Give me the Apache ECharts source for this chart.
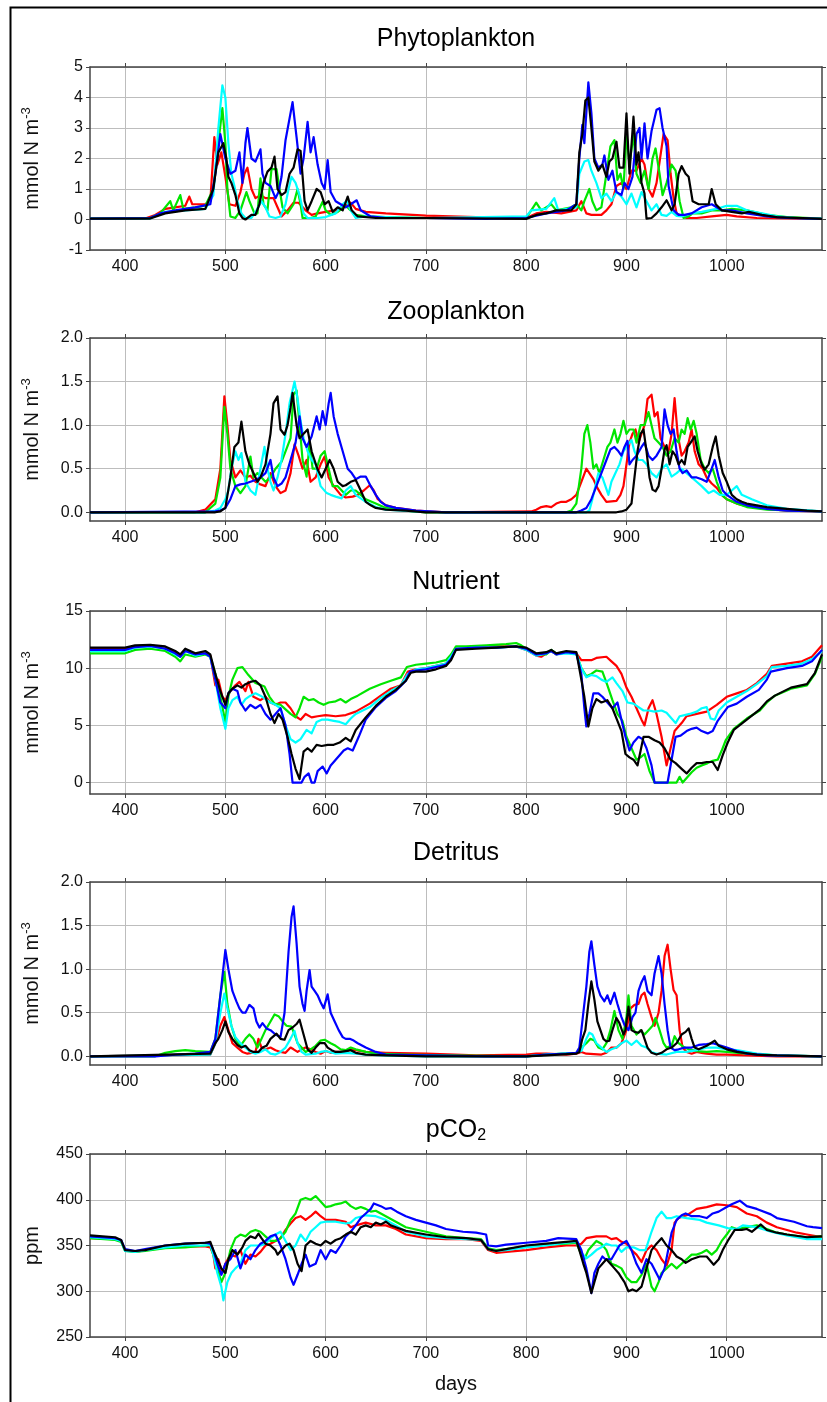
<!DOCTYPE html>
<html><head><meta charset="utf-8">
<script src="https://cdn.jsdelivr.net/npm/echarts@6/dist/echarts.min.js"></script>
<style>html,body{margin:0;padding:0;background:#fff}#c{width:827px;height:1402px}</style>
</head><body><div id="c"></div>
<script>
// ---------- tick labels / categories ----------
const xTicks = [400,500,600,700,800,900,1000];
const xMin = 365, xMax = 1095;
const yTicksPhyto = [-1,0,1,2,3,4,5];
const yTicksZoo = [0,0.5,1,1.5,2];
const yTicksNut = [0,5,10,15];
const yTicksDet = [0,0.5,1,1.5,2];
const yTicksPco2 = [250,300,350,400,450];
const seriesNames = ['red','green','cyan','blue','black'];

// ---------- Phytoplankton [day, mmol N m-3] ----------
const phytoRed = [[365,0.02],[400,0.02],[420,0.03],[430,0.15],[440,0.35],[450,0.4],[460,0.45],[464,0.75],[467,0.5],[480,0.5],[485,0.6],[489,2.7],[492,1.8],[496,2.2],[500,1.4],[504,0.5],[510,0.45],[515,0.9],[519,1.5],[522,1.7],[526,1.0],[530,0.7],[535,0.8],[540,0.7],[548,0.7],[552,0.4],[556,0.1],[562,0.3],[568,0.55],[573,0.55],[580,0.3],[586,0.15],[592,0.2],[600,0.25],[610,0.3],[620,0.45],[625,0.55],[630,0.35],[640,0.25],[660,0.2],[700,0.13],[750,0.08],[780,0.03],[800,0.05],[810,0.2],[820,0.25],[835,0.2],[850,0.3],[855,0.6],[860,0.2],[865,0.15],[875,0.15],[880,0.3],[885,0.5],[890,1.1],[895,1.2],[900,1.0],[905,1.6],[910,1.6],[915,2.0],[918,1.8],[922,1.0],[926,0.75],[930,1.2],[937,2.8],[941,2.6],[944,1.5],[947,0.7],[950,0.2],[960,0.05],[970,0.05],[985,0.1],[1000,0.15],[1010,0.1],[1030,0.05],[1095,0.02]];
const phytoBlue = [[365,0.03],[425,0.05],[435,0.2],[450,0.3],[470,0.4],[485,0.5],[490,1.5],[495,2.8],[500,2.0],[505,1.5],[510,1.6],[514,2.2],[517,1.2],[520,2.5],[522,3.0],[526,2.0],[530,1.9],[535,2.3],[537,1.5],[540,1.2],[545,1.1],[550,0.7],[553,0.9],[556,1.4],[560,2.6],[567,3.85],[571,2.7],[575,1.5],[578,2.0],[582,3.2],[585,2.2],[588,2.7],[592,1.8],[596,1.2],[599,1.0],[602,1.95],[605,0.9],[610,0.6],[615,0.5],[620,0.4],[625,0.5],[631,0.63],[635,0.3],[645,0.1],[660,0.05],[700,0.05],[760,0.02],[800,0.05],[820,0.2],[840,0.3],[850,0.5],[853,2.0],[856,3.1],[858,2.5],[862,4.5],[865,3.5],[868,2.0],[872,1.7],[876,1.8],[878,2.1],[882,1.3],[886,1.6],[890,0.9],[895,0.8],[898,1.2],[902,1.0],[906,1.4],[910,2.8],[913,3.0],[915,2.0],[918,3.15],[921,2.0],[925,2.9],[930,3.6],[933,3.65],[936,3.0],[940,2.4],[942,1.1],[947,0.3],[952,0.15],[958,0.15],[965,0.2],[975,0.4],[985,0.5],[995,0.3],[1005,0.3],[1020,0.2],[1040,0.1],[1060,0.05],[1095,0.02]];
const phytoCyan = [[365,0.03],[425,0.03],[440,0.25],[460,0.3],[480,0.35],[488,0.8],[493,3.0],[497,4.4],[500,4.0],[503,2.5],[506,1.5],[509,1.1],[512,0.6],[516,0.2],[520,0.05],[526,0.05],[531,0.3],[536,0.6],[540,0.4],[544,0.1],[550,0.05],[555,0.1],[560,0.5],[563,1.0],[566,1.4],[570,1.2],[574,0.8],[578,0.2],[582,0.05],[592,0.05],[600,0.08],[610,0.2],[617,0.5],[621,0.6],[625,0.3],[630,0.05],[640,0.1],[660,0.08],[700,0.05],[800,0.1],[805,0.3],[820,0.35],[828,0.7],[832,0.3],[850,0.4],[853,1.5],[858,1.9],[862,1.95],[865,1.6],[870,1.2],[875,0.7],[880,0.85],[885,0.6],[890,0.9],[895,0.75],[900,0.5],[905,0.85],[910,0.4],[915,0.9],[920,0.6],[925,0.3],[930,0.5],[935,0.15],[940,0.12],[945,0.25],[950,0.12],[955,0.1],[965,0.2],[975,0.25],[990,0.35],[1000,0.45],[1010,0.45],[1020,0.3],[1035,0.2],[1050,0.1],[1070,0.05],[1095,0.02]];
const phytoGreen = [[365,0.03],[425,0.05],[435,0.2],[445,0.6],[448,0.3],[455,0.8],[458,0.35],[470,0.4],[480,0.45],[488,1.0],[493,2.5],[497,3.65],[500,2.5],[502,1.0],[505,0.1],[510,0.05],[515,0.3],[521,0.9],[524,0.6],[529,0.2],[532,0.2],[535,1.35],[538,0.5],[542,0.3],[546,1.65],[551,1.65],[554,1.0],[557,0.4],[562,0.2],[568,0.5],[572,1.0],[575,0.5],[577,0.05],[585,0.05],[590,0.1],[597,0.58],[600,0.3],[605,0.15],[612,0.25],[620,0.45],[625,0.3],[630,0.15],[640,0.1],[660,0.08],[700,0.05],[800,0.05],[805,0.3],[810,0.55],[815,0.3],[825,0.5],[830,0.3],[845,0.4],[850,0.5],[855,0.3],[858,0.6],[863,1.0],[866,0.6],[870,0.3],[875,0.4],[880,1.5],[884,2.4],[888,2.6],[891,1.3],[894,1.5],[897,1.0],[900,2.8],[903,1.8],[907,2.8],[910,1.5],[914,1.2],[918,1.6],[922,1.0],[926,2.0],[929,2.33],[933,1.5],[936,0.8],[940,1.2],[945,1.8],[949,1.6],[953,0.6],[957,0.05],[962,0.1],[966,0.2],[975,0.2],[985,0.3],[995,0.3],[1005,0.35],[1020,0.3],[1040,0.15],[1060,0.08],[1095,0.03]];
const phytoBlack = [[365,0.03],[425,0.03],[440,0.2],[460,0.3],[480,0.35],[488,1.0],[493,2.2],[498,2.5],[501,2.0],[503,1.4],[506,1.2],[510,0.8],[514,0.2],[517,0.05],[520,0.0],[526,0.15],[530,0.15],[534,0.5],[538,1.2],[542,1.57],[546,1.7],[549,2.06],[552,1.0],[556,0.8],[560,0.9],[564,1.5],[568,1.7],[572,2.3],[575,2.25],[579,0.6],[582,0.3],[586,0.6],[591,1.0],[595,0.9],[599,0.5],[603,0.6],[607,0.25],[612,0.4],[617,0.3],[622,0.75],[626,0.3],[632,0.1],[650,0.05],[700,0.05],[800,0.02],[810,0.15],[820,0.2],[830,0.3],[845,0.3],[850,0.5],[853,2.2],[856,2.8],[859,3.9],[862,4.0],[865,3.0],[868,1.9],[872,1.6],[876,1.8],[880,1.4],[883,1.9],[886,2.0],[890,2.55],[893,1.7],[897,1.7],[900,3.48],[903,1.5],[907,3.37],[910,1.8],[912,2.2],[915,1.2],[918,0.85],[920,0.03],[925,0.05],[930,0.2],[935,0.4],[940,0.63],[945,0.3],[948,0.5],[952,1.5],[955,1.75],[959,1.5],[962,1.4],[966,0.6],[972,0.5],[978,0.5],[982,0.5],[985,1.0],[989,0.5],[995,0.3],[1005,0.25],[1015,0.2],[1022,0.25],[1035,0.15],[1050,0.08],[1095,0.02]];

// ---------- Zooplankton ----------
const zooRed = [[365,0],[470,0],[480,0.03],[490,0.15],[495,0.5],[499,1.33],[502,1.0],[505,0.6],[510,0.4],[515,0.48],[520,0.4],[525,0.42],[530,0.35],[535,0.32],[540,0.3],[545,0.45],[550,0.3],[555,0.22],[560,0.25],[565,0.45],[569,0.78],[573,0.65],[577,0.5],[581,0.6],[585,0.35],[590,0.4],[595,0.55],[599,0.64],[603,0.4],[608,0.3],[615,0.2],[620,0.17],[627,0.18],[632,0.2],[638,0.25],[644,0.31],[648,0.25],[652,0.15],[660,0.08],[670,0.05],[690,0.02],[720,0],[805,0.01],[810,0.03],[815,0.06],[820,0.07],[825,0.06],[830,0.1],[835,0.12],[840,0.12],[845,0.15],[850,0.2],[855,0.35],[860,0.5],[863,0.45],[867,0.38],[870,0.3],[875,0.2],[880,0.12],[890,0.13],[894,0.2],[897,0.3],[900,0.55],[903,0.8],[906,0.9],[909,0.95],[912,0.8],[915,0.9],[918,1.0],[921,1.3],[925,1.35],[928,1.1],[931,1.15],[934,0.85],[938,0.75],[942,0.7],[945,0.9],[948,1.31],[951,0.9],[955,0.65],[958,0.7],[962,0.8],[965,0.95],[968,0.7],[972,0.55],[976,0.5],[980,0.4],[985,0.33],[990,0.28],[995,0.2],[1000,0.15],[1010,0.1],[1020,0.07],[1040,0.04],[1060,0.02],[1095,0.01]];
const zooBlue = [[365,0],[490,0.01],[495,0.02],[500,0.05],[505,0.15],[510,0.3],[515,0.32],[520,0.33],[525,0.35],[530,0.37],[535,0.4],[540,0.45],[545,0.6],[548,0.4],[552,0.3],[556,0.33],[560,0.4],[565,0.6],[570,0.8],[574,1.1],[577,0.85],[581,0.75],[586,0.87],[591,1.1],[594,0.95],[597,1.16],[600,1.0],[603,1.25],[605,1.37],[608,1.1],[612,0.9],[617,0.7],[622,0.5],[626,0.45],[630,0.38],[635,0.41],[640,0.41],[645,0.3],[650,0.2],[655,0.12],[660,0.08],[670,0.05],[690,0.02],[720,0],[850,0],[855,0.02],[860,0.05],[865,0.15],[870,0.3],[875,0.45],[880,0.6],[884,0.72],[888,0.75],[892,0.7],[895,0.65],[898,0.75],[901,0.82],[903,0.55],[906,0.6],[910,0.65],[915,0.75],[918,0.8],[922,0.65],[926,0.6],[930,0.65],[935,0.75],[938,1.18],[941,1.0],[944,0.9],[947,0.95],[950,0.7],[953,0.5],[956,0.45],[960,0.48],[965,0.4],[970,0.4],[975,0.38],[980,0.35],[985,0.5],[988,0.6],[992,0.4],[996,0.25],[1000,0.2],[1010,0.12],[1020,0.08],[1040,0.04],[1060,0.02],[1095,0.01]];
const zooCyan = [[365,0],[480,0],[490,0.02],[495,0.05],[500,0.15],[503,0.25],[506,0.5],[510,0.7],[513,0.6],[516,0.68],[520,0.35],[525,0.25],[530,0.2],[535,0.5],[539,0.75],[542,0.5],[545,0.35],[548,0.25],[552,0.4],[556,0.6],[560,0.9],[564,1.25],[569,1.5],[572,1.3],[575,1.05],[578,0.85],[582,0.7],[586,0.6],[590,0.55],[595,0.3],[601,0.22],[605,0.2],[610,0.18],[616,0.16],[620,0.25],[625,0.3],[630,0.2],[640,0.12],[650,0.06],[660,0.03],[690,0.01],[720,0],[860,0],[863,0.02],[866,0.15],[869,0.3],[872,0.45],[876,0.4],[879,0.3],[882,0.2],[885,0.35],[889,0.45],[893,0.55],[897,0.7],[900,0.75],[905,0.83],[908,0.7],[912,0.6],[916,0.6],[920,0.55],[925,0.45],[930,0.4],[935,0.5],[940,0.55],[945,0.41],[950,0.45],[955,0.5],[960,0.45],[965,0.4],[970,0.35],[975,0.3],[982,0.22],[987,0.25],[993,0.2],[1000,0.2],[1005,0.25],[1010,0.3],[1015,0.2],[1025,0.15],[1040,0.08],[1060,0.04],[1095,0.01]];
const zooGreen = [[365,0],[480,0],[490,0.1],[495,0.4],[499,1.21],[502,0.9],[505,0.5],[510,0.3],[515,0.22],[520,0.3],[525,0.64],[528,0.4],[532,0.45],[536,0.4],[540,0.35],[545,0.4],[550,0.5],[556,0.58],[560,0.7],[565,0.85],[568,1.35],[571,1.4],[574,1.0],[577,0.6],[581,0.41],[584,0.8],[587,0.5],[591,0.5],[595,0.65],[599,0.7],[603,0.5],[607,0.3],[612,0.3],[616,0.25],[620,0.2],[625,0.25],[630,0.25],[635,0.2],[640,0.15],[650,0.1],[660,0.05],[680,0.02],[700,0],[840,0],[845,0.02],[850,0.1],[855,0.5],[858,0.9],[861,1.0],[864,0.8],[867,0.5],[870,0.55],[873,0.45],[877,0.6],[881,0.75],[884,0.8],[888,0.95],[891,0.8],[894,0.9],[897,1.05],[900,0.9],[903,0.95],[907,0.95],[910,0.8],[914,1.0],[918,1.0],[922,1.15],[925,1.0],[928,0.85],[932,0.8],[936,0.75],[940,0.65],[944,0.7],[948,0.85],[952,0.8],[955,0.95],[958,0.9],[961,1.08],[964,0.95],[967,1.05],[970,0.9],[974,0.6],[978,0.5],[982,0.45],[986,0.5],[990,0.35],[995,0.2],[1000,0.15],[1010,0.1],[1020,0.06],[1040,0.03],[1095,0.01]];
const zooBlack = [[365,0],[490,0],[495,0.01],[500,0.05],[505,0.4],[509,0.75],[513,0.8],[516,1.04],[520,0.7],[524,0.55],[528,0.45],[532,0.35],[535,0.4],[540,0.55],[545,0.9],[548,1.25],[552,1.33],[555,0.95],[559,0.89],[562,1.0],[565,1.2],[567,1.37],[571,1.0],[574,0.85],[578,0.9],[582,0.95],[586,0.7],[592,0.49],[596,0.4],[600,0.5],[604,0.6],[608,0.5],[612,0.35],[617,0.3],[620,0.31],[625,0.35],[630,0.37],[635,0.25],[640,0.12],[645,0.08],[650,0.05],[660,0.03],[680,0.02],[700,0],[890,0],[895,0.01],[900,0.03],[905,0.1],[908,0.4],[911,0.7],[914,0.9],[917,0.95],[920,0.7],[923,0.4],[926,0.26],[929,0.24],[932,0.3],[935,0.5],[938,0.72],[940,0.77],[943,0.55],[946,0.7],[949,0.65],[952,0.55],[955,0.6],[958,0.55],[961,0.75],[964,0.8],[968,0.87],[971,0.7],[975,0.55],[978,0.49],[982,0.55],[986,0.75],[989,0.87],[992,0.65],[996,0.45],[1000,0.35],[1005,0.2],[1010,0.15],[1015,0.12],[1020,0.1],[1030,0.08],[1040,0.06],[1060,0.04],[1080,0.02],[1095,0.01]];

// ---------- Nutrient ----------
const nutRed = [[365,11.7],[400,11.7],[410,11.9],[425,12.0],[440,11.8],[450,11.4],[455,11.1],[460,11.6],[470,11.2],[480,11.4],[485,11.1],[490,8.5],[493,9.0],[497,7.5],[500,7.2],[505,8.0],[510,8.5],[514,8.8],[520,8.0],[523,8.8],[528,7.5],[535,7.2],[540,7.5],[545,7.0],[550,6.8],[555,7.0],[560,7.0],[565,6.5],[570,5.8],[575,5.5],[580,6.0],[586,5.7],[592,5.8],[600,5.9],[610,5.8],[620,5.9],[630,6.2],[644,6.9],[655,7.6],[665,8.2],[675,8.5],[682,9.7],[690,9.9],[700,10.0],[710,10.2],[720,10.4],[725,10.9],[730,11.7],[750,11.8],[770,11.9],[790,11.9],[800,11.6],[810,11.1],[815,11.0],[820,11.3],[825,11.5],[830,11.2],[840,11.4],[850,11.3],[855,10.7],[865,10.7],[870,10.9],[880,11.0],[885,10.6],[890,10.2],[895,9.5],[900,8.3],[905,7.5],[910,6.5],[915,5.5],[918,5.0],[922,6.5],[926,7.2],[930,6.0],[935,4.0],[940,1.5],[944,3.0],[948,4.5],[955,5.2],[960,5.8],[970,6.0],[980,6.2],[990,6.8],[1000,7.5],[1010,7.8],[1020,8.1],[1030,8.7],[1040,9.5],[1045,10.2],[1060,10.4],[1075,10.6],[1085,11.0],[1095,12.0]];
const nutBlue = [[365,11.6],[400,11.6],[410,11.85],[425,11.95],[440,11.7],[450,11.3],[455,11.0],[460,11.5],[470,11.2],[480,11.3],[485,11.0],[490,9.0],[495,7.0],[500,6.5],[503,7.8],[507,8.2],[512,8.0],[515,7.0],[520,6.3],[525,6.8],[530,6.5],[535,6.8],[540,6.0],[545,5.5],[550,6.0],[555,6.5],[560,5.0],[564,2.5],[567,0],[576,0],[579,0.5],[583,0.8],[586,0.0],[589,0.0],[592,1.0],[597,1.4],[601,0.8],[605,1.5],[610,2.0],[615,2.5],[618,2.8],[622,3.0],[627,2.8],[633,4.0],[640,5.5],[650,6.6],[660,7.4],[670,8.0],[680,8.9],[684,9.7],[690,9.8],[700,9.9],[710,10.1],[720,10.3],[725,10.8],[730,11.7],[750,11.8],[770,11.8],[790,11.9],[800,11.7],[810,11.2],[820,11.3],[825,11.5],[830,11.2],[840,11.4],[850,11.3],[855,9.5],[858,6.5],[860,4.9],[863,6.0],[867,7.8],[872,7.8],[876,7.5],[881,7.0],[886,6.5],[891,7.0],[895,5.5],[899,4.0],[903,2.8],[907,3.5],[912,4.0],[916,3.8],[920,3.0],[925,1.5],[928,0],[941,0],[945,2.0],[949,4.0],[954,4.1],[960,4.5],[965,4.7],[970,4.8],[975,4.5],[981,4.3],[986,4.5],[991,5.4],[996,6.0],[1001,6.6],[1010,6.9],[1020,7.5],[1032,8.1],[1040,9.0],[1044,9.7],[1060,10.0],[1075,10.2],[1085,10.6],[1095,11.6]];
const nutCyan = [[365,11.5],[400,11.5],[410,11.8],[425,11.9],[440,11.7],[450,11.2],[455,11.0],[460,11.5],[470,11.1],[480,11.3],[485,11.0],[490,9.0],[495,6.5],[500,4.7],[503,6.5],[507,7.2],[512,7.5],[516,6.8],[520,7.3],[525,7.6],[530,7.8],[535,7.6],[540,7.3],[545,7.0],[550,6.8],[555,6.5],[560,5.0],[565,3.8],[570,3.5],[575,3.8],[581,4.6],[586,4.3],[591,5.3],[596,5.5],[602,5.5],[608,5.4],[614,5.3],[620,5.1],[625,5.6],[630,6.0],[644,6.6],[655,7.4],[665,8.0],[675,8.5],[682,9.5],[690,9.9],[700,10.0],[710,10.2],[720,10.4],[725,11.0],[730,11.7],[750,11.8],[770,11.8],[790,11.9],[800,11.6],[810,11.1],[820,11.3],[825,11.5],[830,11.2],[840,11.3],[850,11.2],[855,10.0],[860,9.2],[865,9.4],[870,9.3],[875,9.0],[880,8.8],[886,9.2],[890,8.7],[896,8.0],[901,7.0],[907,6.9],[912,6.6],[917,6.3],[922,6.3],[928,6.2],[935,6.3],[940,6.1],[945,5.6],[949,5.2],[953,5.8],[958,5.9],[963,6.0],[970,6.2],[975,6.5],[980,6.6],[984,5.6],[988,5.5],[992,6.3],[1000,7.0],[1010,7.5],[1020,8.0],[1030,8.6],[1040,9.3],[1045,10.1],[1060,10.2],[1075,10.4],[1085,10.8],[1095,11.5]];
const nutGreen = [[365,11.3],[400,11.3],[410,11.6],[425,11.7],[440,11.5],[450,11.0],[455,10.6],[460,11.2],[470,11.0],[480,11.2],[485,11.0],[490,9.5],[495,7.5],[500,5.3],[503,7.5],[507,9.0],[512,10.0],[517,10.1],[523,9.4],[530,8.7],[539,8.4],[544,7.5],[549,6.9],[555,6.8],[560,6.4],[565,6.0],[570,5.7],[574,6.5],[578,7.5],[583,7.2],[588,7.3],[593,7.0],[598,6.8],[603,7.0],[610,7.1],[615,7.3],[620,7.0],[625,7.3],[632,7.6],[644,8.2],[655,8.6],[665,8.9],[675,9.2],[681,10.1],[690,10.3],[700,10.4],[710,10.5],[720,10.7],[725,11.2],[730,11.9],[740,11.9],[760,12.0],[780,12.1],[790,12.2],[795,12.0],[800,11.7],[810,11.2],[820,11.2],[825,11.6],[830,11.3],[840,11.4],[850,11.3],[855,10.0],[860,9.3],[865,9.5],[870,9.8],[876,9.7],[881,8.5],[886,7.2],[891,6.0],[896,5.4],[900,4.0],[905,3.0],[910,2.0],[914,2.2],[918,2.5],[923,1.0],[928,0],[950,0],[953,0.5],[956,0],[960,0.4],[965,0.9],[970,1.3],[975,1.5],[981,1.7],[986,1.9],[991,2.0],[995,2.8],[999,3.7],[1007,4.7],[1020,5.6],[1033,6.3],[1040,7.0],[1048,7.6],[1064,8.2],[1080,8.5],[1088,9.5],[1095,11.0]];
const nutBlack = [[365,11.8],[400,11.8],[410,12.0],[425,12.05],[440,11.9],[450,11.5],[455,11.2],[460,11.7],[470,11.3],[480,11.5],[485,11.2],[490,9.5],[495,8.0],[500,6.8],[503,7.8],[507,8.2],[512,8.5],[516,8.3],[520,8.6],[525,8.8],[530,8.9],[535,8.5],[540,7.5],[545,6.0],[549,5.2],[553,6.0],[557,5.5],[562,4.0],[566,2.5],[570,1.2],[574,0.3],[578,2.7],[582,3.0],[586,2.7],[591,3.3],[596,3.2],[602,3.3],[608,3.3],[614,3.5],[620,3.9],[625,3.6],[630,4.6],[640,5.7],[650,6.7],[660,7.5],[670,8.1],[680,8.9],[685,9.6],[690,9.7],[700,9.7],[710,9.9],[720,10.2],[725,10.7],[730,11.6],[750,11.7],[770,11.8],[790,11.9],[800,11.8],[810,11.3],[820,11.4],[825,11.6],[830,11.3],[840,11.5],[850,11.4],[855,9.0],[858,7.5],[862,4.9],[866,6.5],[870,7.3],[875,7.0],[881,7.2],[886,6.5],[891,5.4],[895,4.5],[899,2.5],[903,2.2],[907,2.0],[911,1.5],[917,4.0],[922,4.0],[928,3.7],[933,3.5],[938,3.0],[944,2.0],[949,1.7],[955,1.2],[960,0.8],[965,1.3],[970,1.7],[975,1.7],[980,1.8],[986,1.8],[991,1.1],[996,2.4],[1001,3.5],[1007,4.6],[1020,5.5],[1033,6.4],[1040,7.1],[1048,7.6],[1064,8.3],[1080,8.6],[1088,9.6],[1095,11.2]];

// ---------- Detritus ----------
const detRed = [[365,0],[485,0.02],[490,0.15],[495,0.35],[499,0.45],[503,0.3],[507,0.15],[512,0.1],[517,0.05],[522,0.03],[526,0.04],[530,0.05],[533,0.2],[536,0.1],[540,0.08],[545,0.1],[550,0.07],[555,0.05],[560,0.04],[565,0.1],[568,0.08],[572,0.05],[576,0.08],[580,0.1],[585,0.08],[590,0.05],[595,0.03],[600,0.06],[605,0.04],[610,0.05],[620,0.05],[625,0.08],[630,0.07],[640,0.05],[660,0.04],[700,0.03],[750,0.01],[800,0.02],[810,0.03],[820,0.03],[840,0.02],[850,0.03],[855,0.05],[860,0.03],[875,0.02],[880,0.04],[885,0.1],[890,0.1],[895,0.15],[900,0.3],[904,0.55],[908,0.59],[912,0.6],[915,0.7],[918,0.73],[921,0.6],[925,0.45],[928,0.35],[932,0.5],[935,0.75],[938,1.15],[941,1.28],[944,1.0],[947,0.76],[950,0.7],[953,0.3],[956,0.1],[960,0.05],[965,0.03],[970,0.05],[975,0.04],[980,0.03],[990,0.02],[1000,0.02],[1050,0],[1095,0]];
const detBlue = [[365,0],[430,0],[450,0.02],[470,0.03],[485,0.05],[490,0.2],[495,0.7],[500,1.22],[503,1.0],[507,0.75],[511,0.63],[514,0.55],[517,0.5],[520,0.5],[524,0.59],[528,0.55],[531,0.4],[534,0.33],[537,0.38],[541,0.32],[545,0.3],[550,0.25],[555,0.22],[559,0.5],[563,1.2],[566,1.6],[568,1.72],[571,1.3],[574,0.8],[577,0.6],[579,0.52],[581,0.75],[584,0.99],[586,0.8],[589,0.75],[592,0.7],[595,0.62],[598,0.55],[602,0.71],[605,0.5],[609,0.4],[613,0.3],[617,0.22],[620,0.2],[624,0.2],[628,0.18],[632,0.15],[640,0.1],[650,0.05],[660,0.02],[700,0.01],[760,0],[800,0],[820,0.02],[840,0.03],[850,0.04],[853,0.1],[857,0.5],[860,0.8],[863,1.2],[865,1.32],[868,1.05],[871,0.8],[874,0.7],[878,0.63],[881,0.7],[884,0.6],[888,0.73],[891,0.6],[895,0.45],[898,0.36],[902,0.3],[906,0.45],[909,0.5],[912,0.75],[915,0.85],[918,0.92],[921,0.75],[925,0.7],[928,0.95],[932,1.15],[935,0.95],[938,0.6],[941,0.3],[944,0.1],[948,0.07],[952,0.08],[958,0.1],[965,0.1],[972,0.13],[980,0.14],[986,0.15],[992,0.13],[1000,0.1],[1010,0.06],[1020,0.03],[1040,0.01],[1095,0]];
const detCyan = [[365,0],[485,0.02],[490,0.15],[495,0.5],[499,0.72],[502,0.55],[506,0.35],[510,0.22],[515,0.15],[520,0.1],[525,0.05],[530,0.03],[535,0.05],[540,0.08],[545,0.03],[550,0.02],[555,0.05],[560,0.1],[565,0.2],[569,0.29],[572,0.15],[576,0.05],[580,0.02],[590,0.03],[595,0.05],[600,0.06],[610,0.03],[620,0.04],[630,0.03],[640,0.02],[660,0.01],[700,0],[800,0],[820,0.02],[850,0.04],[855,0.06],[860,0.2],[863,0.27],[866,0.25],[870,0.15],[875,0.1],[880,0.05],[885,0.08],[890,0.1],[895,0.15],[900,0.18],[905,0.13],[910,0.18],[915,0.12],[920,0.1],[925,0.05],[930,0.03],[940,0.02],[950,0.05],[960,0.05],[970,0.07],[980,0.1],[990,0.1],[1000,0.08],[1010,0.07],[1030,0.03],[1050,0.01],[1095,0]];
const detGreen = [[365,0],[430,0],[440,0.04],[450,0.06],[460,0.07],[470,0.06],[485,0.05],[490,0.2],[495,0.7],[499,0.97],[502,0.6],[506,0.35],[510,0.2],[515,0.12],[520,0.2],[524,0.25],[528,0.2],[532,0.1],[536,0.2],[540,0.3],[545,0.4],[549,0.48],[553,0.46],[557,0.4],[561,0.35],[566,0.34],[569,0.25],[572,0.15],[576,0.1],[580,0.05],[585,0.08],[590,0.12],[595,0.18],[599,0.19],[605,0.15],[610,0.12],[615,0.08],[620,0.07],[625,0.1],[630,0.08],[640,0.05],[650,0.03],[680,0.02],[720,0.01],[800,0],[820,0.02],[850,0.04],[855,0.1],[860,0.15],[864,0.2],[868,0.18],[872,0.1],[876,0.08],[880,0.15],[884,0.3],[888,0.52],[892,0.3],[896,0.2],[900,0.45],[902,0.7],[905,0.35],[910,0.25],[914,0.3],[918,0.25],[922,0.3],[926,0.35],[929,0.44],[933,0.3],[937,0.15],[940,0.1],[945,0.12],[948,0.23],[952,0.15],[958,0.1],[962,0.08],[966,0.07],[970,0.06],[980,0.05],[990,0.06],[1000,0.05],[1020,0.03],[1050,0.01],[1095,0]];
const detBlack = [[365,0],[485,0.03],[490,0.15],[493,0.2],[497,0.3],[500,0.4],[503,0.28],[507,0.2],[512,0.13],[516,0.1],[520,0.12],[524,0.07],[528,0.05],[533,0.05],[537,0.1],[541,0.12],[545,0.2],[551,0.26],[555,0.2],[559,0.19],[563,0.3],[567,0.33],[571,0.37],[574,0.42],[578,0.25],[582,0.08],[586,0.04],[590,0.1],[594,0.15],[599,0.15],[602,0.1],[606,0.07],[610,0.05],[615,0.05],[620,0.06],[625,0.07],[630,0.04],[640,0.02],[660,0.01],[700,0],[800,0],[820,0.01],[850,0.03],[853,0.05],[856,0.2],[859,0.3],[862,0.6],[865,0.86],[868,0.65],[871,0.4],[874,0.3],[877,0.2],[880,0.17],[883,0.18],[886,0.3],[890,0.44],[893,0.38],[897,0.25],[899,0.3],[902,0.57],[905,0.3],[908,0.28],[912,0.27],[915,0.3],[918,0.2],[921,0.1],[925,0.04],[930,0.02],[935,0.04],[940,0.08],[945,0.1],[950,0.15],[955,0.25],[959,0.28],[962,0.32],[965,0.2],[968,0.1],[972,0.08],[976,0.1],[980,0.12],[984,0.15],[988,0.18],[992,0.12],[1000,0.08],[1010,0.05],[1030,0.02],[1050,0.01],[1095,0]];

// ---------- pCO2 [day, ppm] ----------
const pco2Red = [[365,358],[390,357],[396,355],[400,345],[410,343],[420,345],[440,348],[460,349],[480,349],[485,348],[488,340],[490,325],[493,335],[497,320],[500,330],[505,340],[510,338],[515,345],[520,330],[525,340],[530,338],[535,343],[540,350],[545,352],[550,355],[555,358],[560,367],[565,374],[570,380],[575,382],[580,378],[585,382],[590,387],[595,382],[600,378],[610,378],[620,376],[625,370],[630,372],[640,375],[650,372],[660,372],[670,368],[680,362],[700,358],[720,357],[740,357],[755,355],[762,345],[770,342],[780,343],[800,345],[820,348],[840,350],[850,350],[855,352],[860,358],[870,360],[880,360],[885,357],[890,358],[895,354],[900,352],[905,345],[910,340],[915,332],[920,345],[925,350],[930,345],[935,335],[940,328],[945,345],[948,375],[952,380],[960,383],[970,390],[980,392],[990,395],[1000,394],[1010,392],[1020,385],[1030,382],[1040,375],[1050,370],[1060,367],[1070,364],[1080,362],[1090,360],[1095,360]];
const pco2Blue = [[365,360],[390,358],[396,356],[400,346],[410,344],[420,346],[440,350],[460,352],[480,353],[485,352],[488,345],[492,330],[496,318],[500,330],[505,335],[510,345],[515,325],[520,340],[525,335],[530,345],[535,352],[540,355],[545,360],[550,362],[555,350],[560,335],[565,315],[568,307],[572,318],[576,330],[580,340],[584,327],[590,330],[595,345],[600,335],[605,345],[610,342],[615,350],[620,360],[625,365],[630,372],[635,380],[640,385],[645,390],[648,396],[655,393],[660,390],[665,391],[671,387],[680,382],[690,378],[700,375],[710,372],[720,368],[737,365],[750,364],[760,362],[762,350],[770,349],[780,351],[800,353],[820,355],[832,358],[850,357],[855,345],[860,325],[865,298],[868,320],[872,330],[876,338],[879,335],[885,335],[893,350],[900,355],[905,345],[910,330],[915,320],[920,335],[925,330],[933,313],[938,325],[945,364],[950,378],[955,383],[959,385],[965,382],[973,382],[980,380],[986,385],[992,387],[1000,392],[1005,395],[1013,399],[1020,393],[1030,390],[1044,384],[1050,380],[1067,376],[1080,371],[1086,370],[1095,369]];
const pco2Cyan = [[365,359],[390,357],[396,355],[400,344],[410,343],[420,345],[440,348],[460,350],[480,350],[485,351],[488,340],[492,320],[496,305],[498,290],[502,310],[506,320],[510,325],[515,330],[520,345],[525,350],[530,350],[535,350],[540,352],[545,358],[550,362],[555,365],[560,355],[565,345],[570,350],[575,362],[580,355],[585,365],[590,370],[595,375],[600,376],[610,376],[620,374],[625,375],[630,380],[640,383],[650,382],[660,378],[670,372],[680,365],[700,360],[720,358],[740,357],[755,356],[762,346],[770,344],[780,345],[800,348],[820,350],[840,353],[850,354],[855,342],[860,336],[865,340],[870,345],[875,348],[880,352],[885,350],[890,350],[895,343],[900,348],[907,348],[913,345],[919,345],[925,365],[930,380],[935,387],[940,380],[945,380],[950,382],[960,380],[973,378],[980,375],[992,372],[1001,369],[1010,368],[1016,372],[1030,370],[1044,365],[1060,361],[1080,357],[1095,357]];
const pco2Green = [[365,358],[390,356],[396,354],[400,344],[410,343],[420,344],[440,347],[460,348],[480,350],[485,350],[488,340],[492,325],[496,310],[500,320],[505,345],[510,358],[515,362],[520,360],[525,365],[530,367],[535,365],[540,360],[545,355],[550,355],[555,358],[560,365],[565,378],[570,385],[575,400],[580,402],[585,400],[590,404],[595,398],[600,392],[605,393],[610,395],[615,396],[620,398],[625,393],[630,390],[635,392],[640,390],[645,387],[650,388],[660,382],[670,376],[680,370],[700,365],[720,360],[740,358],[755,357],[762,347],[770,345],[780,346],[800,349],[820,351],[840,352],[850,353],[855,340],[858,335],[862,345],[866,350],[870,355],[875,352],[880,345],[885,330],[890,328],[895,325],[900,315],[905,310],[910,310],[915,318],[920,330],[925,305],[928,300],[932,310],[935,320],[940,325],[945,330],[950,325],[955,330],[960,335],[965,340],[970,340],[975,342],[980,345],[985,340],[990,345],[995,355],[1000,362],[1005,370],[1010,368],[1020,370],[1030,372],[1040,368],[1050,364],[1060,362],[1080,359],[1095,360]];
const pco2Black = [[365,361],[390,359],[396,356],[400,345],[410,344],[420,345],[440,350],[460,352],[480,353],[485,354],[488,345],[492,335],[496,325],[500,320],[503,335],[507,345],[512,340],[517,348],[520,355],[525,360],[530,358],[533,363],[536,358],[540,352],[545,350],[550,345],[552,340],[556,345],[560,350],[564,352],[568,345],[572,330],[576,322],[580,350],[585,355],[590,352],[595,350],[600,355],[605,352],[610,356],[615,358],[620,362],[625,365],[630,362],[635,370],[640,372],[645,370],[650,375],[655,373],[660,376],[665,372],[670,370],[680,366],[700,362],[720,359],[740,358],[755,356],[762,346],[770,344],[780,346],[800,350],[820,352],[840,354],[850,355],[853,345],[857,330],[860,320],[865,298],[868,310],[872,325],[876,330],[880,335],[884,330],[888,325],[892,320],[895,315],[898,310],[902,300],[906,302],[910,300],[915,305],[920,325],[925,345],[930,352],[935,358],[940,350],[945,345],[950,338],[955,335],[959,331],[965,335],[973,338],[980,338],[987,329],[992,335],[996,345],[1001,355],[1008,367],[1015,367],[1020,368],[1025,365],[1034,373],[1040,367],[1050,364],[1060,362],[1080,359],[1095,360]];

// ---------- chart build ----------
const FONT = '"Liberation Sans", Arial, Helvetica, sans-serif';
const COLORS = {red:'#ff0000', green:'#00e600', cyan:'#00ffff', blue:'#0000ff', black:'#000000'};
const AXIS_C = '#444';
const GRID_C = '#bdbdbd';

const panels = [
  {title:'{t|Phytoplankton}', data:[phytoRed,phytoGreen,phytoCyan,phytoBlue,phytoBlack], min:-1, max:5, ticks:yTicksPhyto, fmt:v=>String(v), yname:'{a|mmol N m}{b|-3}', top:67, titleTop:25},
  {title:'{t|Zooplankton}', data:[zooRed,zooGreen,zooCyan,zooBlue,zooBlack], min:-0.1, max:2, ticks:yTicksZoo, fmt:v=>Number(v).toFixed(1), yname:'{a|mmol N m}{b|-3}', top:338, titleTop:298},
  {title:'{t|Nutrient}', data:[nutRed,nutGreen,nutCyan,nutBlue,nutBlack], min:-1, max:15, ticks:yTicksNut, fmt:v=>String(v), yname:'{a|mmol N m}{b|-3}', top:611, titleTop:568},
  {title:'{t|Detritus}', data:[detRed,detGreen,detCyan,detBlue,detBlack], min:-0.1, max:2, ticks:yTicksDet, fmt:v=>Number(v).toFixed(1), yname:'{a|mmol N m}{b|-3}', top:882, titleTop:839},
  {title:'{t|pCO}{s|2}', data:[pco2Red,pco2Green,pco2Cyan,pco2Blue,pco2Black], min:250, max:450, ticks:yTicksPco2, fmt:v=>String(v), yname:'{a|ppm}', top:1154, titleTop:1116}
];
const PH = 183, GL = 90, GR = 5;

const option = {animation:false, backgroundColor:'#fff', grid:[], xAxis:[], yAxis:[], series:[], title:[],
  graphic:[{type:'polyline', shape:{points:[[10.5,1402],[10.5,7.5],[827,7.5]]}, style:{stroke:'#000', lineWidth:2, fill:null}, silent:true}]};

panels.forEach((p,i)=>{
  option.grid.push({left:GL, right:GR, top:p.top, height:PH});
  option.title.push({text:p.title, left:(GL + 827 - GR)/2, top:p.titleTop, textAlign:'center', padding:0,
    textStyle:{fontFamily:FONT, fontWeight:'normal', color:'#000', fontSize:25,
      rich:{t:{fontFamily:FONT, fontSize:25, color:'#000', lineHeight:28},
            s:{fontFamily:FONT, fontSize:16, color:'#000', lineHeight:14, verticalAlign:'bottom'}}}});
  const lineAx = {show:true, onZero:false, lineStyle:{color:AXIS_C, width:1.5}};
  const tick = (vals)=>({show:true, inside:false, length:4, customValues:vals, lineStyle:{color:AXIS_C, width:1}});
  option.xAxis.push({gridIndex:i, type:'value', min:xMin, max:xMax, position:'bottom',
    axisLine:lineAx, axisTick:tick(xTicks),
    axisLabel:{customValues:xTicks, formatter:v=>String(v), fontFamily:FONT, fontSize:16, color:'#111', margin:9},
    splitLine:{show:true, lineStyle:{color:GRID_C, width:1}},
    name: i===4 ? 'days' : '', nameLocation:'middle', nameGap:37,
    nameTextStyle:{fontFamily:FONT, fontSize:20, color:'#111'}});
  option.xAxis.push({gridIndex:i, type:'value', min:xMin, max:xMax, position:'top',
    axisLine:lineAx, axisTick:tick(xTicks), axisLabel:{show:false}, splitLine:{show:false}});
  option.yAxis.push({gridIndex:i, type:'value', min:p.min, max:p.max, position:'left',
    axisLine:lineAx, axisTick:tick(p.ticks),
    axisLabel:{customValues:p.ticks, formatter:p.fmt, fontFamily:FONT, fontSize:16, color:'#111', margin:7},
    splitLine:{show:true, lineStyle:{color:GRID_C, width:1}},
    name:p.yname, nameLocation:'middle', nameGap:46, nameRotate:90,
    nameTextStyle:{fontFamily:FONT, fontSize:20, color:'#111',
      rich:{a:{fontFamily:FONT, fontSize:20, color:'#111', lineHeight:24},
            b:{fontFamily:FONT, fontSize:13, color:'#111', lineHeight:12, verticalAlign:'top'}}}});
  option.yAxis.push({gridIndex:i, type:'value', min:p.min, max:p.max, position:'right',
    axisLine:lineAx, axisTick:tick(p.ticks), axisLabel:{show:false}, splitLine:{show:false}});
  p.data.forEach((d,k)=>{
    const c = COLORS[seriesNames[k]];
    option.series.push({type:'line', name:seriesNames[k], xAxisIndex:2*i, yAxisIndex:2*i, data:d,
      showSymbol:false, symbol:'none', clip:true, z:2+k,
      lineStyle:{color:c, width:2.2, join:'round'}, itemStyle:{color:c}});
  });
});

const chart = echarts.init(document.getElementById('c'), null, {renderer:'canvas'});
chart.setOption(option);
</script>
</body></html>
